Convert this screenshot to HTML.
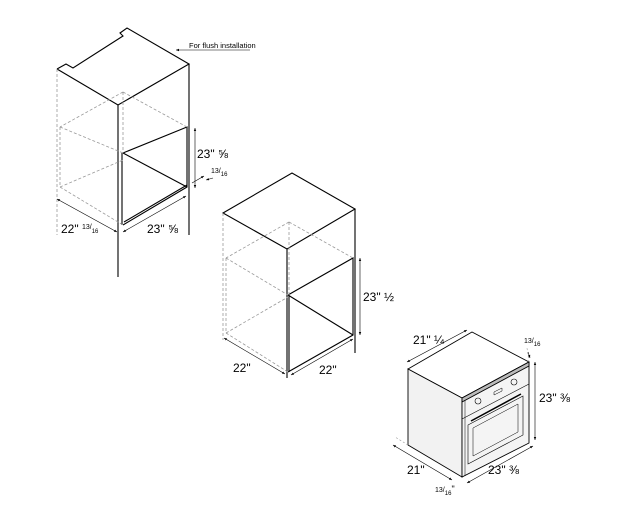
<!DOCTYPE html>
<html><head><meta charset="utf-8"><style>
html,body{margin:0;padding:0;background:#fff;}
svg{display:block;font-family:"Liberation Sans",sans-serif;}
</style></head><body>
<svg width="625" height="522" viewBox="0 0 625 522" xmlns="http://www.w3.org/2000/svg">
<defs>
<marker id="a" viewBox="0 0 10 10" refX="10" refY="5" markerWidth="5" markerHeight="5" orient="auto-start-reverse"><path d="M0,1 L10,5 L0,9 z" fill="#000"/></marker>
</defs>
<g fill="none" stroke="#000" stroke-width="1.1">
<!-- Cabinet 1 -->
<polyline points="57,69 66,64 73,68 123,36 120,33 127,28 189,64 118,105 57,69"/>
<line x1="118" y1="105" x2="118" y2="277"/>
<line x1="189" y1="64" x2="189" y2="235"/>
<line x1="122" y1="153" x2="122" y2="225"/>
<polyline points="123,153 187,127 187,187 123,225"/>
<line x1="123" y1="153" x2="187" y2="187"/>
<line x1="124" y1="222" x2="187" y2="185"/>
</g>
<g fill="none" stroke="#999" stroke-width="0.8" stroke-dasharray="3,2">
<line x1="57" y1="69" x2="57" y2="235"/>
<line x1="123" y1="92" x2="123" y2="153"/>
<line x1="123" y1="92" x2="60" y2="127"/>
<line x1="123" y1="92" x2="187" y2="127"/>
<line x1="60" y1="127" x2="60" y2="187"/>
<line x1="60" y1="127" x2="123" y2="153"/>
<line x1="60" y1="187" x2="123" y2="225"/>
<line x1="60" y1="187" x2="123" y2="160"/>
</g>
<g stroke="#000" stroke-width="0.6" fill="none">
<line x1="57" y1="199" x2="117" y2="232" marker-start="url(#a)" marker-end="url(#a)"/>
<line x1="123" y1="232" x2="186" y2="196" marker-start="url(#a)" marker-end="url(#a)"/>
<line x1="195" y1="128" x2="195" y2="188" marker-start="url(#a)" marker-end="url(#a)"/>
<line x1="192" y1="183" x2="204" y2="176" marker-end="url(#a)"/>
<line x1="213" y1="178" x2="206" y2="180" marker-end="url(#a)"/>
<line x1="250" y1="50" x2="176" y2="50" marker-end="url(#a)"/>
</g>
<text x="189" y="48" font-size="7.5">For flush installation</text>
<text x="61" y="233" font-size="12">22" <tspan font-size="7" dy="-4">13</tspan><tspan font-size="7">/</tspan><tspan font-size="6" dy="4">16</tspan></text>
<text x="147" y="233" font-size="12">23" ⅝</text>
<text x="197" y="158" font-size="12">23" ⅝</text>
<text x="211" y="175" font-size="7"><tspan dy="-2">13</tspan><tspan>/</tspan><tspan font-size="6" dy="3">16</tspan></text>

<!-- Cabinet 2 -->
<g fill="none" stroke="#000" stroke-width="1.1">
<polygon points="223,213 292,173 355,209 287,249"/>
<line x1="287" y1="249" x2="287" y2="378"/>
<line x1="355" y1="209" x2="355" y2="353"/>
<line x1="289" y1="295" x2="289" y2="372"/>
<polyline points="288,295 353,258 353,335 288,372"/>
<line x1="288" y1="295" x2="353" y2="335"/>
</g>
<g fill="none" stroke="#999" stroke-width="0.8" stroke-dasharray="3,2">
<line x1="223" y1="213" x2="223" y2="340"/>
<line x1="289" y1="222" x2="289" y2="295"/>
<line x1="289" y1="222" x2="226" y2="258"/>
<line x1="289" y1="222" x2="353" y2="258"/>
<line x1="226" y1="258" x2="226" y2="333"/>
<line x1="226" y1="258" x2="288" y2="295"/>
<line x1="226" y1="333" x2="288" y2="372"/>
<line x1="226" y1="333" x2="288" y2="297"/>
</g>
<g stroke="#000" stroke-width="0.6" fill="none">
<line x1="224" y1="338" x2="285" y2="374" marker-start="url(#a)" marker-end="url(#a)"/>
<line x1="291" y1="375" x2="353" y2="339" marker-start="url(#a)" marker-end="url(#a)"/>
<line x1="360" y1="258" x2="360" y2="335" marker-start="url(#a)" marker-end="url(#a)"/>
</g>
<text x="233" y="372" font-size="12">22"</text>
<text x="319" y="374" font-size="12">22"</text>
<text x="363" y="301" font-size="12">23" ½</text>

<!-- Oven -->
<g stroke="#000" stroke-width="0.9">
<polygon points="408,369 472,332 529,362 462,398" fill="#fff"/>
<polygon points="408,369 462,398 462,477 408,445" fill="#f2f2f2"/>
<polygon points="462,398 529,362 529,443 462,477" fill="#f4f4f4"/>
<polygon points="462,398 529,362 529,366 462,402" fill="#bbb"/>
<line x1="462" y1="419" x2="529" y2="384" stroke-width="0.6"/>
<polygon points="468,425 523,396 523,435 468,464" fill="none" stroke-width="0.6"/>
<polygon points="473,428 518,404 518,432 473,456" fill="none" stroke-width="0.5"/>
<line x1="471" y1="421" x2="521" y2="394" stroke-width="1.5"/>
<circle cx="478" cy="401" r="3" fill="none" stroke-width="0.6"/>
<circle cx="514" cy="382" r="3" fill="none" stroke-width="0.6"/>
<polygon points="494,392 502,388 502,391 494,395" fill="none" stroke-width="0.5"/>
<line x1="465" y1="400" x2="465" y2="476" stroke-width="0.5"/>
</g>
<g stroke="#000" stroke-width="0.6" fill="none">
<line x1="407" y1="362" x2="467" y2="330" marker-start="url(#a)" marker-end="url(#a)"/>
<line x1="535" y1="362" x2="535" y2="440" marker-start="url(#a)" marker-end="url(#a)"/>
<line x1="393" y1="445" x2="452" y2="480" marker-start="url(#a)" marker-end="url(#a)"/>
<line x1="467" y1="483" x2="533" y2="446" marker-start="url(#a)" marker-end="url(#a)"/>
<line x1="528" y1="352" x2="530" y2="358" marker-end="url(#a)"/>
</g>
<g stroke="#999" stroke-width="0.6" stroke-dasharray="2,2">
<line x1="408" y1="445" x2="395" y2="437"/>
<line x1="529" y1="362" x2="527" y2="348"/>
</g>
<text x="413" y="344" font-size="12">21" ¼</text>
<text x="524" y="345" font-size="7"><tspan dy="-2">13</tspan><tspan>/</tspan><tspan font-size="6" dy="3">16</tspan></text>
<text x="539" y="402" font-size="12">23" ⅜</text>
<text x="407" y="474" font-size="12">21"</text>
<text x="488" y="474" font-size="12">23" ⅜</text>
<text x="435" y="494" font-size="7"><tspan dy="-2">13</tspan><tspan>/</tspan><tspan font-size="6" dy="3">16</tspan><tspan font-size="9" dy="-3">"</tspan></text>
</svg>
</body></html>
